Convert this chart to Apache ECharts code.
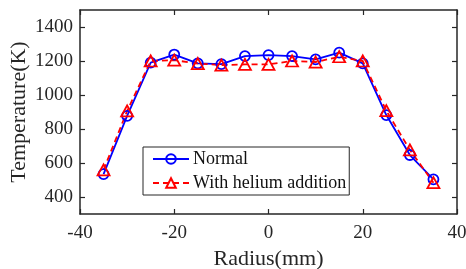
<!DOCTYPE html>
<html>
<head>
<meta charset="utf-8">
<script src="https://cdn.jsdelivr.net/npm/echarts@6/dist/echarts.min.js"></script>
<style>
html, body { margin: 0; padding: 0; background: #fff; }
#chartDom { width: 466px; height: 269px; }
</style>
</head>
<body>
<div id="chartDom"></div>
<script>
// radius positions (mm)
const radius = [-35, -30, -25, -20, -15, -10, -5, 0, 5, 10, 15, 20, 25, 30, 35]
// temperature (K)
const normalTemp = [535, 877, 1190, 1238, 1186, 1182, 1229, 1235, 1229, 1210, 1249, 1186, 882, 647, 504]
const heliumTemp = [559, 906, 1200, 1205, 1185, 1176, 1180, 1180, 1200, 1194, 1225, 1200, 908, 677, 484]
const yTicks = [400, 600, 800, 1000, 1200, 1400]
const xTicks = [-40, -20, 0, 20, 40]

const font = 'Liberation Serif'
const axisColor = '#262626'

const chart = echarts.init(document.getElementById('chartDom'))

const boxAxisLine = { show: true, onZero: false, lineStyle: { color: axisColor, width: 1.5 } }
const tickIn = { show: true, inside: true, length: 5, lineStyle: { color: axisColor, width: 1.2 } }

const option = {
  animation: false,
  grid: { left: 80, top: 10, width: 377, height: 204, outerBoundsMode: 'none', containLabel: false },
  legend: {
    left: 143,
    top: 147,
    orient: 'vertical',
    itemWidth: 36,
    itemHeight: 12,
    itemGap: 6,
    padding: [3, 3, 3, 9],
    borderColor: axisColor,
    borderWidth: 1,
    backgroundColor: '#fff',
    textStyle: { fontFamily: font, fontSize: 18, color: '#111', padding: [0, 0, 0, -1] },
    data: ['Normal', 'With helium addition']
  },
  xAxis: [
    {
      type: 'value',
      min: -40,
      max: 40,
      interval: 20,
      name: 'Radius(mm)',
      nameLocation: 'middle',
      nameGap: 34,
      nameMoveOverlap: false,
      nameTextStyle: { fontFamily: font, fontSize: 22, color: axisColor },
      axisLine: boxAxisLine,
      axisTick: tickIn,
      axisLabel: { fontFamily: font, fontSize: 19, color: axisColor, margin: 10 },
      splitLine: { show: false }
    },
    {
      type: 'value',
      position: 'top',
      min: -40,
      max: 40,
      interval: 20,
      axisLine: boxAxisLine,
      axisTick: tickIn,
      axisLabel: { show: false },
      splitLine: { show: false }
    }
  ],
  yAxis: [
    {
      type: 'value',
      min: 300,
      max: 1500,
      name: 'Temperature(K)',
      nameLocation: 'middle',
      nameGap: 50,
      nameMoveOverlap: false,
      nameTextStyle: { fontFamily: font, fontSize: 22, color: axisColor },
      axisLine: boxAxisLine,
      axisTick: Object.assign({ customValues: yTicks }, tickIn),
      axisLabel: {
        fontFamily: font, fontSize: 19, color: axisColor, margin: 7,
        customValues: yTicks,
        formatter: v => String(v)
      },
      splitLine: { show: false }
    },
    {
      type: 'value',
      position: 'right',
      min: 300,
      max: 1500,
      axisLine: boxAxisLine,
      axisTick: Object.assign({ customValues: yTicks }, tickIn),
      axisLabel: { show: false, customValues: yTicks },
      splitLine: { show: false }
    }
  ],
  series: [
    {
      name: 'Normal',
      type: 'line',
      data: radius.map((r, i) => [r, normalTemp[i]]),
      symbol: 'circle',
      symbolSize: 10,
      lineStyle: { color: '#0000ff', width: 1.8 },
      itemStyle: { color: 'rgba(0,0,0,0)', borderColor: '#0000ff', borderWidth: 1.8 }
    },
    {
      name: 'With helium addition',
      type: 'line',
      data: radius.map((r, i) => [r, heliumTemp[i]]),
      symbol: 'triangle',
      symbolSize: [12, 11],
      lineStyle: { color: '#ff0000', width: 1.8, type: [6, 4] },
      itemStyle: { color: 'rgba(0,0,0,0)', borderColor: '#ff0000', borderWidth: 1.8 }
    }
  ]
}

chart.setOption(option)
</script>
</body>
</html>
